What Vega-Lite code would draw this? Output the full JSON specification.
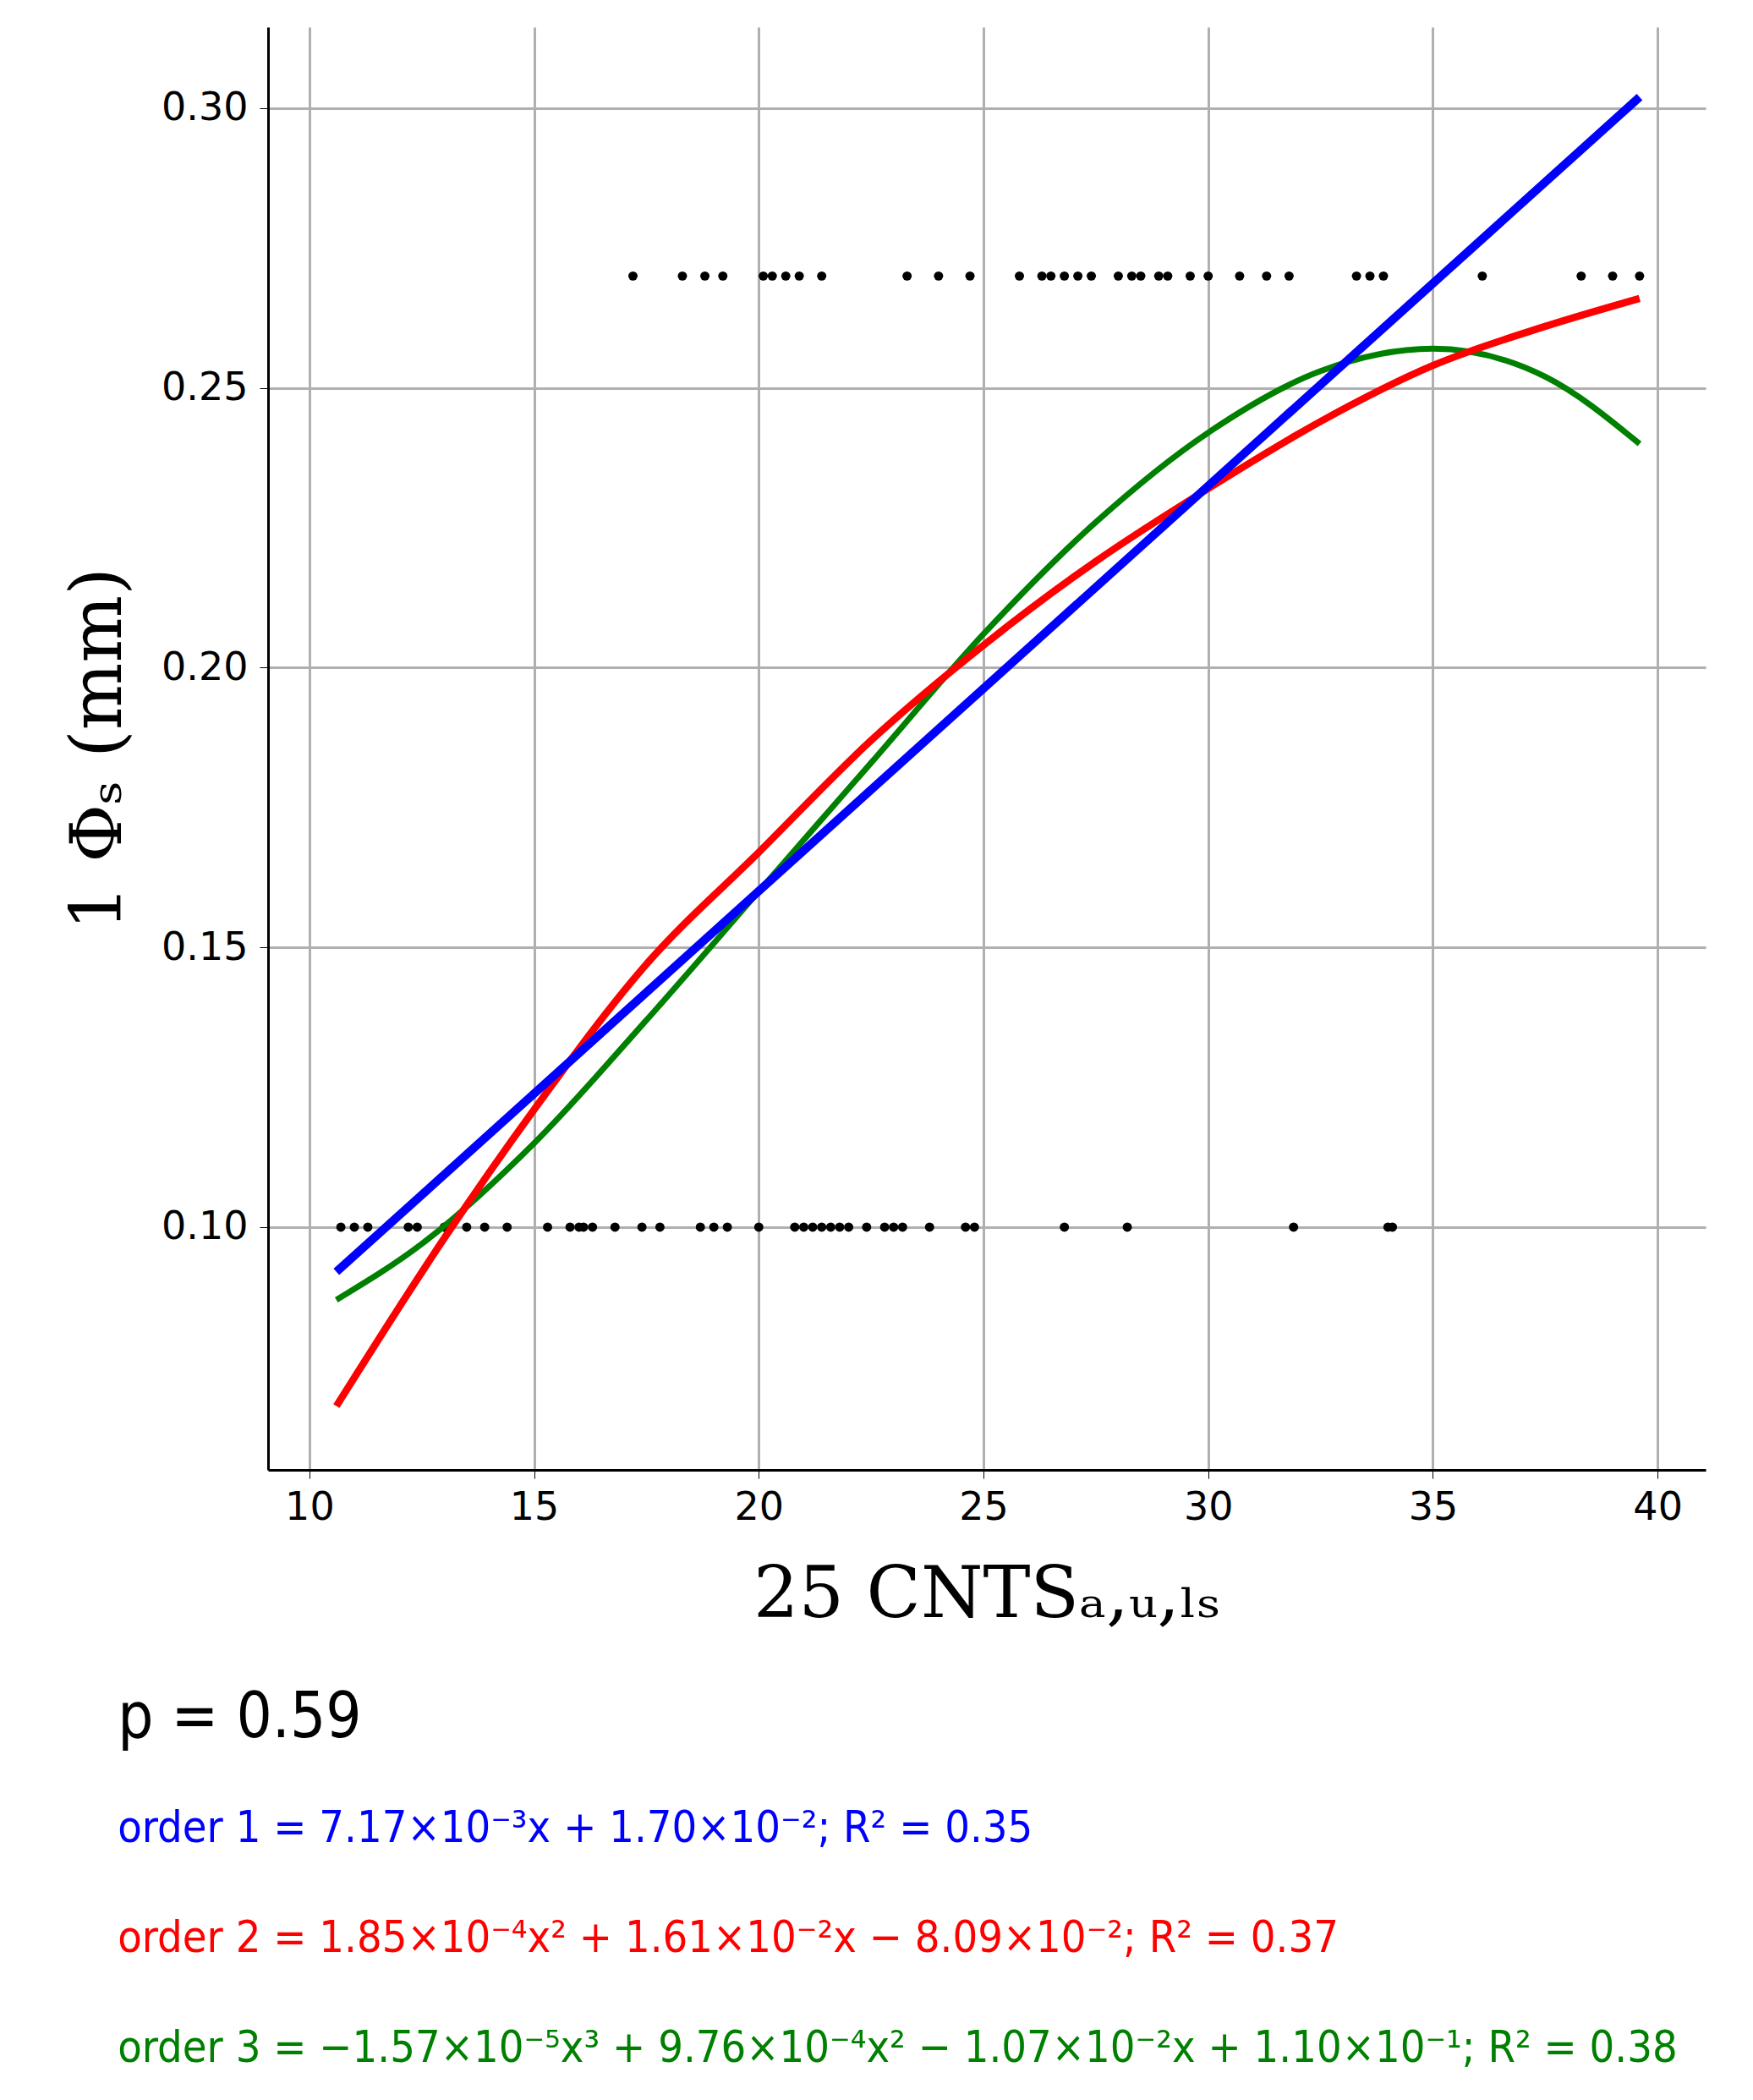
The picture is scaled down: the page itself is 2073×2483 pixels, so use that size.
{
  "$schema": "https://vega.github.io/schema/vega-lite/v6.json",
  "padding": {"left": 75, "top": 32, "right": 35, "bottom": 0},
  "background": "white",
  "spacing": 0,
  "config": {"view": {"stroke": null}, "font": "DejaVu Sans"},
  "vconcat": [
    {
      "width": 1700,
      "height": 1706,
      "layer": [
        {
          "data": {"values": [
            {"x": 10.7, "y": 0.1}, {"x": 11.0, "y": 0.1}, {"x": 11.3, "y": 0.1}, {"x": 12.2, "y": 0.1}, {"x": 12.4, "y": 0.1},
            {"x": 13.0, "y": 0.1}, {"x": 13.5, "y": 0.1}, {"x": 13.9, "y": 0.1}, {"x": 14.4, "y": 0.1}, {"x": 15.3, "y": 0.1},
            {"x": 15.8, "y": 0.1}, {"x": 16.0, "y": 0.1}, {"x": 16.1, "y": 0.1}, {"x": 16.3, "y": 0.1}, {"x": 16.8, "y": 0.1},
            {"x": 17.4, "y": 0.1}, {"x": 17.8, "y": 0.1}, {"x": 18.7, "y": 0.1}, {"x": 19.0, "y": 0.1}, {"x": 19.3, "y": 0.1},
            {"x": 20.0, "y": 0.1}, {"x": 20.8, "y": 0.1}, {"x": 21.0, "y": 0.1}, {"x": 21.2, "y": 0.1}, {"x": 21.4, "y": 0.1},
            {"x": 21.6, "y": 0.1}, {"x": 21.8, "y": 0.1}, {"x": 22.0, "y": 0.1}, {"x": 22.4, "y": 0.1}, {"x": 22.8, "y": 0.1},
            {"x": 23.0, "y": 0.1}, {"x": 23.2, "y": 0.1}, {"x": 23.8, "y": 0.1}, {"x": 24.6, "y": 0.1}, {"x": 24.8, "y": 0.1},
            {"x": 26.8, "y": 0.1}, {"x": 28.2, "y": 0.1}, {"x": 31.9, "y": 0.1}, {"x": 34.0, "y": 0.1}, {"x": 34.1, "y": 0.1},
            {"x": 17.2, "y": 0.27}, {"x": 18.3, "y": 0.27}, {"x": 18.8, "y": 0.27}, {"x": 19.2, "y": 0.27}, {"x": 20.1, "y": 0.27},
            {"x": 20.3, "y": 0.27}, {"x": 20.6, "y": 0.27}, {"x": 20.9, "y": 0.27}, {"x": 21.4, "y": 0.27}, {"x": 23.3, "y": 0.27},
            {"x": 24.0, "y": 0.27}, {"x": 24.7, "y": 0.27}, {"x": 25.8, "y": 0.27}, {"x": 26.3, "y": 0.27}, {"x": 26.5, "y": 0.27},
            {"x": 26.8, "y": 0.27}, {"x": 27.1, "y": 0.27}, {"x": 27.4, "y": 0.27}, {"x": 28.0, "y": 0.27}, {"x": 28.3, "y": 0.27},
            {"x": 28.5, "y": 0.27}, {"x": 28.9, "y": 0.27}, {"x": 29.1, "y": 0.27}, {"x": 29.6, "y": 0.27}, {"x": 30.0, "y": 0.27},
            {"x": 30.7, "y": 0.27}, {"x": 31.3, "y": 0.27}, {"x": 31.8, "y": 0.27}, {"x": 33.3, "y": 0.27}, {"x": 33.6, "y": 0.27},
            {"x": 33.9, "y": 0.27}, {"x": 36.1, "y": 0.27}, {"x": 38.3, "y": 0.27}, {"x": 39.0, "y": 0.27}, {"x": 39.6, "y": 0.27}
          ]},
          "mark": {"type": "circle", "size": 120, "color": "black", "opacity": 1},
          "encoding": {
            "x": {"field": "x", "type": "quantitative",
              "scale": {"domain": [9.08, 41.07], "nice": false, "zero": false},
              "axis": {"values": [10, 15, 20, 25, 30, 35, 40], "title": "25 CNTSₐ,ᵤ,ₗₛ", "titleFont": "DejaVu Serif",
                "titleFontSize": 84, "titleFontWeight": "normal", "titlePadding": 40, "titleColor": "black",
                "labelFontSize": 46, "labelColor": "black", "labelPadding": 12, "tickSize": 10, "tickColor": "black",
                "domainColor": "black", "domainWidth": 3, "gridColor": "#b0b0b0", "gridWidth": 3}},
            "y": {"field": "y", "type": "quantitative",
              "scale": {"domain": [0.0566, 0.3145], "nice": false, "zero": false},
              "axis": {"values": [0.1, 0.15, 0.2, 0.25, 0.3], "format": ".2f", "title": "1 Φₛ (mm)", "titleFont": "DejaVu Serif",
                "titleFontSize": 84, "titleFontWeight": "normal", "titlePadding": 30, "titleColor": "black",
                "labelFontSize": 46, "labelColor": "black", "labelPadding": 14, "tickSize": 10, "tickColor": "black",
                "domainColor": "black", "domainWidth": 3, "gridColor": "#b0b0b0", "gridWidth": 3}}
          }
        },
        {
          "data": {"values": [
            {"fit": "order 3", "x": 10.6, "y": 0.087}, {"fit": "order 3", "x": 12.5, "y": 0.097}, {"fit": "order 3", "x": 15, "y": 0.115},
            {"fit": "order 3", "x": 17.5, "y": 0.137}, {"fit": "order 3", "x": 20, "y": 0.160}, {"fit": "order 3", "x": 22.5, "y": 0.183},
            {"fit": "order 3", "x": 25, "y": 0.206}, {"fit": "order 3", "x": 27.5, "y": 0.226}, {"fit": "order 3", "x": 30, "y": 0.242},
            {"fit": "order 3", "x": 32.5, "y": 0.253}, {"fit": "order 3", "x": 35, "y": 0.257}, {"fit": "order 3", "x": 37.5, "y": 0.252},
            {"fit": "order 3", "x": 39.6, "y": 0.240},
            {"fit": "order 2", "x": 10.6, "y": 0.068}, {"fit": "order 2", "x": 13, "y": 0.098}, {"fit": "order 2", "x": 15, "y": 0.121},
            {"fit": "order 2", "x": 17.5, "y": 0.147}, {"fit": "order 2", "x": 20, "y": 0.167}, {"fit": "order 2", "x": 22.5, "y": 0.187},
            {"fit": "order 2", "x": 25, "y": 0.204}, {"fit": "order 2", "x": 27.5, "y": 0.219}, {"fit": "order 2", "x": 30, "y": 0.232},
            {"fit": "order 2", "x": 32.5, "y": 0.244}, {"fit": "order 2", "x": 35, "y": 0.254}, {"fit": "order 2", "x": 37.5, "y": 0.261},
            {"fit": "order 2", "x": 39.6, "y": 0.266},
            {"fit": "order 1", "x": 10.6, "y": 0.092}, {"fit": "order 1", "x": 39.6, "y": 0.302}
          ]},
          "mark": {"type": "line", "interpolate": "monotone"},
          "encoding": {
            "x": {"field": "x", "type": "quantitative"},
            "y": {"field": "y", "type": "quantitative"},
            "detail": {"field": "fit"},
            "color": {"field": "fit", "type": "nominal", "legend": null,
              "scale": {"domain": ["order 1", "order 2", "order 3"], "range": ["#0000ff", "#ff0000", "#008000"]}},
            "strokeWidth": {"field": "fit", "type": "nominal", "legend": null,
              "scale": {"domain": ["order 1", "order 2", "order 3"], "range": [10, 7, 7]}},
            "order": {"field": "x", "type": "quantitative"}
          }
        }
      ]
    },
    {
      "width": 1998,
      "height": 520,
      "data": {"values": [
        {"row": 0, "x": -0.089, "size": 74, "colour": "black", "label": "p = 0.59"},
        {"row": 1, "x": -0.089, "size": 52, "colour": "#0000ff", "label": "order 1 = 7.17×10⁻³x + 1.70×10⁻²;  R² = 0.35"},
        {"row": 2, "x": -0.089, "size": 52, "colour": "#ff0000", "label": "order  2 =   1.85×10⁻⁴x² +   1.61×10⁻²x  − 8.09×10⁻²; R² = 0.37"},
        {"row": 3, "x": -0.089, "size": 52, "colour": "#008000", "label": "order  3 = −1.57×10⁻⁵x³ + 9.76×10⁻⁴x² − 1.07×10⁻²x + 1.10×10⁻¹; R² = 0.38"}
      ]},
      "mark": {"type": "text", "align": "left", "baseline": "middle", "font": "DejaVu Sans Condensed"},
      "encoding": {
        "x": {"field": "x", "type": "quantitative", "scale": {"domain": [0, 1], "zero": false, "nice": false}, "axis": null},
        "y": {"field": "row", "type": "quantitative", "scale": {"domain": [-0.8, 3.2], "reverse": true, "nice": false, "zero": false}, "axis": null},
        "text": {"field": "label"},
        "color": {"field": "colour", "type": "nominal", "scale": null},
        "size": {"field": "size", "type": "quantitative", "scale": null}
      }
    }
  ]
}
